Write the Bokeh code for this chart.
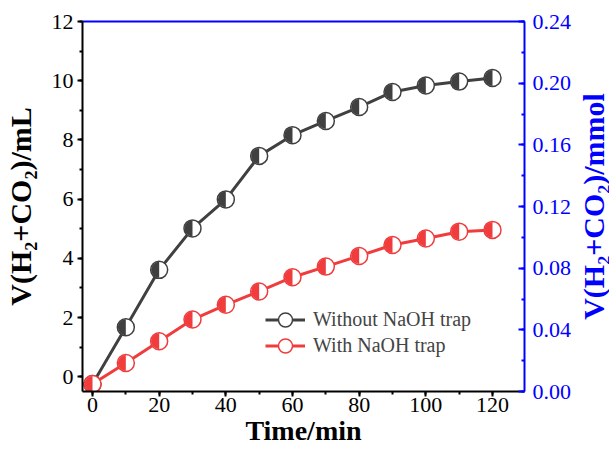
import math
from bokeh.plotting import figure
from bokeh.layouts import row
from bokeh.models import (LinearAxis, Range1d, SingleIntervalTicker, FixedTicker,
                          PrintfTickFormatter, ColumnDataSource, Legend, LegendItem)
from bokeh.embed import file_html
from bokeh.resources import INLINE

# ---- data ----
time_min = [0, 10, 20, 30, 40, 50, 60, 70, 80, 90, 100, 110, 120]
without_trap = [-0.25, 1.67, 3.61, 5.01, 5.99, 7.46, 8.16, 8.64, 9.11, 9.62, 9.84, 9.97, 10.09]
with_trap = [-0.25, 0.46, 1.20, 1.93, 2.43, 2.88, 3.36, 3.72, 4.08, 4.45, 4.67, 4.90, 4.96]
series_names = ["Without NaOH trap", "With NaOH trap"]
left_label = "V(H\u2082+CO\u2082)/mL"
right_label = "V(H\u2082+CO\u2082)/mmol"

FONT = "Liberation Serif"
DARK = "#404040"
RED = "#f03c3c"
BLUE = "#0000ff"

X0, X1 = -3, 129.6
Y0, Y1 = -0.5, 12
H = 452
TOP, BOTTOM = 21, 61

p = figure(width=575, height=H, output_backend="svg", toolbar_location=None,
           x_range=Range1d(X0, X1), y_range=Range1d(Y0, Y1),
           min_border_left=82, min_border_right=51, min_border_top=TOP, min_border_bottom=BOTTOM)
p.xgrid.visible = False
p.ygrid.visible = False
p.outline_line_color = None
p.extra_y_ranges = {"mmol": Range1d(0, 0.24)}

def style_axis(ax, color, tick_in, tick_out, minor_in, minor_out):
    ax.axis_line_color = color
    ax.axis_line_width = 2
    ax.major_tick_line_color = color
    ax.minor_tick_line_color = color
    ax.major_tick_line_width = 2
    ax.minor_tick_line_width = 2
    ax.major_tick_in = tick_in
    ax.major_tick_out = tick_out
    ax.minor_tick_in = minor_in
    ax.minor_tick_out = minor_out
    ax.major_label_text_font = FONT
    ax.major_label_text_font_size = "22px"
    ax.major_label_text_color = color
    ax.axis_label_text_font = FONT
    ax.axis_label_text_font_style = "bold"
    ax.axis_label_text_font_size = "30px"
    ax.axis_label_text_color = color

xa = p.xaxis[0]
xa.ticker = SingleIntervalTicker(interval=20, num_minor_ticks=2)
xa.axis_label = "Time/min"
style_axis(xa, "black", 0, 5, 0, 3)
xa.axis_label_text_font_size = "28px"
xa.major_label_standoff = 1
xa.axis_label_standoff = 0

ya = p.yaxis[0]
ya.ticker = SingleIntervalTicker(interval=2, num_minor_ticks=2)
ya.axis_label = left_label
style_axis(ya, "black", 0, 5, 0, 3)
ya.major_label_standoff = 4
ya.axis_label_standoff = 12

ra = LinearAxis(y_range_name="mmol", ticker=SingleIntervalTicker(interval=0.04, num_minor_ticks=2),
                formatter=PrintfTickFormatter(format="%.2f"))
style_axis(ra, BLUE, 6, 0, 3, 0)
ra.major_label_standoff = 8
p.add_layout(ra, "right")

ta = LinearAxis(ticker=FixedTicker(ticks=[]), major_tick_in=0, major_tick_out=0,
                minor_tick_in=0, minor_tick_out=0,
                axis_line_color=BLUE, axis_line_width=2, major_label_standoff=0)
p.add_layout(ta, "above")

src = ColumnDataSource(dict(t=time_min, a=without_trap, b=with_trap))

items = []
for col, color, name in [("a", DARK, series_names[0]), ("b", RED, series_names[1])]:
    ln = p.line("t", col, source=src, line_color=color, line_width=3)
    ci = p.scatter("t", col, source=src, size=17, marker="circle", fill_color="white",
                   line_color=color, line_width=1.5)
    p.wedge("t", col, source=src, radius=8, radius_units="screen",
            start_angle=math.pi / 2, end_angle=3 * math.pi / 2,
            fill_color=color, line_color=None)
    items.append(LegendItem(label=name, renderers=[ln, ci]))

for item, loc in zip(items, [(183, 54), (183, 28)]):
    lg = Legend(items=[item], location=loc, glyph_width=40, glyph_height=35,
                padding=0, margin=0, spacing=0, label_standoff=8,
                border_line_color=None, background_fill_alpha=0,
                label_text_font=FONT, label_text_font_size="20px",
                label_text_baseline="middle")
    p.add_layout(lg, "center")

# narrow strip that carries the right-hand axis title, reading bottom-to-top
p2 = figure(width=34, height=H, output_backend="svg", toolbar_location=None,
            x_range=Range1d(0, 1), y_range=Range1d(0, 1),
            min_border_left=0, min_border_right=0, min_border_top=TOP, min_border_bottom=BOTTOM)
p2.xgrid.visible = False
p2.ygrid.visible = False
p2.outline_line_color = None
p2.xaxis.visible = False
ya2 = p2.yaxis[0]
ya2.ticker = FixedTicker(ticks=[])
ya2.axis_line_color = None
ya2.major_tick_in = 0
ya2.major_tick_out = 0
ya2.minor_tick_in = 0
ya2.minor_tick_out = 0
ya2.major_label_standoff = 0
ya2.axis_label = right_label
ya2.axis_label_standoff = 0
ya2.axis_label_text_font = FONT
ya2.axis_label_text_font_style = "bold"
ya2.axis_label_text_font_size = "30px"
ya2.axis_label_text_color = BLUE

layout = row(p, p2, spacing=0)
open("out.html", "w").write(file_html(layout, INLINE))
